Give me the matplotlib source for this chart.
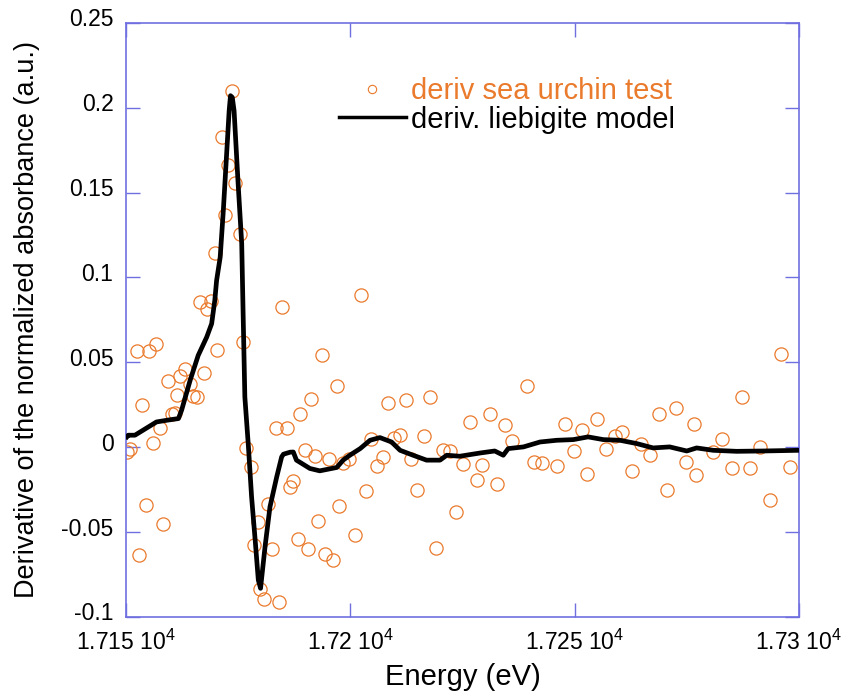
"""
Derivative XANES spectrum: sea urchin test vs liebigite model.
"""

import matplotlib
matplotlib.use("Agg")
import matplotlib.pyplot as plt
import matplotlib.transforms as mtransforms
from matplotlib.lines import Line2D

# measured derivative points (energy in eV, value in a.u.)
test_energy = [
    17173.6, 17171.5, 17172.7, 17174.3, 17172.1, 17175.4, 17169.8, 17166.5, 17168.9, 17168.0,
    17184.7, 17202.3, 17152.4, 17155.2, 17156.8, 17170.4, 17176.0, 17193.8, 17163.2, 17162.0,
    17159.4, 17164.3, 17167.4, 17161.4, 17165.0, 17165.9, 17153.6, 17160.2, 17160.9, 17157.6,
    17197.0, 17191.2, 17188.9, 17183.4, 17185.8, 17150.9, 17150.2, 17156.0, 17176.7, 17177.8,
    17189.9, 17192.1, 17195.2, 17199.8, 17198.4, 17187.3, 17186.6, 17154.4, 17181.6, 17197.5,
    17158.3, 17179.4, 17192.9, 17201.0, 17188.3, 17190.5, 17153.0, 17178.5, 17182.5, 17194.4,
    17196.2, 17179.9, 17180.8, 17184.2, 17208.5, 17212.4, 17217.8, 17226.7, 17231.1, 17234.5,
    17239.3, 17247.8, 17251.6, 17204.6, 17209.7, 17211.1, 17216.5, 17207.2, 17205.9, 17213.5,
    17220.6, 17222.2, 17225.1, 17229.4, 17236.0, 17241.0, 17242.7, 17246.1, 17249.9, 17252.8,
    17203.6, 17214.9, 17228.2, 17232.8, 17223.6, 17219.2, 17296.1, 17287.4, 17268.9, 17272.7,
    17255.1, 17276.7, 17260.6, 17259.0, 17282.8, 17264.7, 17291.4, 17257.0, 17266.8, 17280.8,
    17274.8, 17285.0, 17289.1, 17298.0, 17262.8, 17277.0, 17270.7, 17293.6,
]
test_deriv = [
    0.2096, 0.1829, 0.1663, 0.1557, 0.1366, 0.1255, 0.1143, 0.0855, 0.0861, 0.0816,
    0.0825, 0.0894, 0.0565, 0.0565, 0.0610, 0.0575, 0.0618, 0.0545, 0.0461, 0.0418,
    0.0388, 0.0371, 0.0439, 0.0306, 0.0300, 0.0296, 0.0247, 0.0194, 0.0202, 0.0114,
    0.0359, 0.0282, 0.0194, 0.0112, 0.0112, -0.0008, -0.0028, 0.0025, -0.0002, -0.0116,
    -0.0014, -0.0053, -0.0069, -0.0072, -0.0092, -0.0198, -0.0234, -0.0341, -0.0335, -0.0347,
    -0.0453, -0.0443, -0.0434, -0.0518, -0.0539, -0.0602, -0.0634, -0.0578, -0.0602, -0.0629,
    -0.0665, -0.0837, -0.0896, -0.0910, 0.0261, 0.0276, 0.0296, 0.0151, 0.0198, 0.0129,
    0.0363, 0.0135, 0.0104, 0.0051, 0.0057, 0.0075, 0.0069, -0.0057, -0.0112, -0.0071,
    -0.0014, -0.0025, -0.0096, -0.0106, 0.0034, -0.0084, -0.0092, -0.0112, -0.0025, -0.0155,
    -0.0259, -0.0253, -0.0190, -0.0218, -0.0381, -0.0594, 0.0551, 0.0296, 0.0198, 0.0234,
    0.0166, 0.0139, 0.0092, 0.0065, 0.0051, 0.0018, 0.0004, -0.0012, -0.0043, -0.0028,
    -0.0086, -0.0122, -0.0122, -0.0119, -0.0137, -0.0161, -0.0249, -0.0312,
]

# liebigite model derivative
model_energy = [
    17150.2, 17150.5, 17152.0, 17156.8, 17159.1, 17161.7, 17162.4, 17164.3, 17166.1, 17168.0,
    17169.1, 17169.8, 17170.2, 17171.0, 17171.7, 17173.0, 17173.3, 17173.7, 17174.1, 17175.0,
    17175.8, 17176.1, 17176.5, 17177.3, 17178.0, 17178.8, 17179.5, 17180.0, 17181.0, 17182.1,
    17183.6, 17184.7, 17185.1, 17186.6, 17187.3, 17188.0, 17191.0, 17193.2, 17197.0, 17198.4,
    17199.9, 17202.2, 17204.4, 17206.6, 17209.2, 17211.1, 17214.0, 17217.0, 17220.0, 17221.5,
    17224.4, 17228.9, 17232.2, 17234.1, 17235.2, 17238.6, 17242.3, 17246.0, 17249.7, 17253.0,
    17256.4, 17260.1, 17263.8, 17267.5, 17271.2, 17275.0, 17277.2, 17280.9, 17286.1, 17292.1,
    17300.0,
]
model_deriv = [
    0.0061, 0.0071, 0.0071, 0.0149, 0.0159, 0.0169, 0.0218, 0.0394, 0.0541, 0.0649,
    0.0728, 0.0865, 0.0982, 0.1119, 0.1394, 0.1982, 0.2071, 0.2061, 0.1982, 0.1553,
    0.1200, 0.0806, 0.0296, 0.0002, -0.0292, -0.0547, -0.0782, -0.0831, -0.0586, -0.0351,
    -0.0175, -0.0057, -0.0041, -0.0029, -0.0028, -0.0076, -0.0125, -0.0139, -0.0119, -0.0076,
    -0.0047, -0.0008, 0.0041, 0.0057, 0.0031, -0.0018, -0.0047, -0.0076, -0.0076, -0.0047,
    -0.0053, -0.0034, -0.0022, -0.0047, -0.0008, 0.0002, 0.0031, 0.0041, 0.0045, 0.0061,
    0.0045, 0.0041, 0.0022, -0.0004, 0.0002, -0.0022, -0.0004, -0.0018, -0.0024, -0.0022,
    -0.0018,
]

x_ticks = [17150, 17200, 17250, 17300]
x_tick_labels = ["1.715 10$^{4}$", "1.72 10$^{4}$", "1.725 10$^{4}$", "1.73 10$^{4}$"]
y_ticks = [-0.1, -0.05, 0, 0.05, 0.1, 0.15, 0.2, 0.25]
y_tick_labels = ["-0.1", "-0.05", "0", "0.05", "0.1", "0.15", "0.2", "0.25"]

ORANGE = "#ea7a2c"
AXIS_BLUE = "#6f6fe0"

plt.rcParams["font.family"] = ["Liberation Sans", "DejaVu Sans"]
plt.rcParams["mathtext.fontset"] = "custom"
plt.rcParams["mathtext.rm"] = "Liberation Sans"


def main():
    fig = plt.figure(figsize=(8.54, 6.99), dpi=100)
    ax = fig.add_axes([0.1475, 0.1173, 0.788, 0.850])

    ax.plot(test_energy, test_deriv, "o", mfc="none", mec=ORANGE, ms=9.5, mew=0.9, zorder=2)
    ax.plot(model_energy, model_deriv, "-", color="black", lw=3.4, zorder=3)

    ax.set_xlim(17150, 17300)
    ax.set_ylim(-0.1, 0.25)
    ax.set_xticks(x_ticks)
    ax.set_xticklabels(x_tick_labels)
    ax.set_yticks(y_ticks)
    ax.set_yticklabels(y_tick_labels)
    ax.tick_params(direction="in", length=10, width=1, color=AXIS_BLUE,
                   top=True, right=True, labelsize=16.5)
    ax.tick_params(axis="y", pad=9)
    ax.tick_params(axis="x", pad=9)
    for s in ax.spines.values():
        s.set_color(AXIS_BLUE)
        s.set_linewidth(1.2)

    # the y tick labels sit a little above their ticks in the original
    lift = mtransforms.ScaledTranslation(0, 4 / 72, fig.dpi_scale_trans)
    for lab in ax.get_yticklabels():
        lab.set_transform(lab.get_transform() + lift)

    ax.set_xlabel("Energy (eV)", fontsize=21, labelpad=6)
    ax.set_ylabel("Derivative of the normalized absorbance (a.u.)", fontsize=19.5, labelpad=15)

    handles = [
        Line2D([], [], ls="none", marker="o", mfc="none", mec=ORANGE, ms=6, mew=0.8),
        Line2D([], [], color="black", lw=2.5),
    ]
    leg = ax.legend(handles, ["deriv sea urchin test", "deriv. liebigite model"],
                    loc="upper left", bbox_to_anchor=(0.277, 0.953), frameon=False,
                    fontsize=21, handlelength=2.3, handletextpad=0.18, labelspacing=0.02)
    leg.get_texts()[0].set_color(ORANGE)

    fig.savefig("out.png", dpi=100)
    plt.close(fig)


if __name__ == "__main__":
    main()
